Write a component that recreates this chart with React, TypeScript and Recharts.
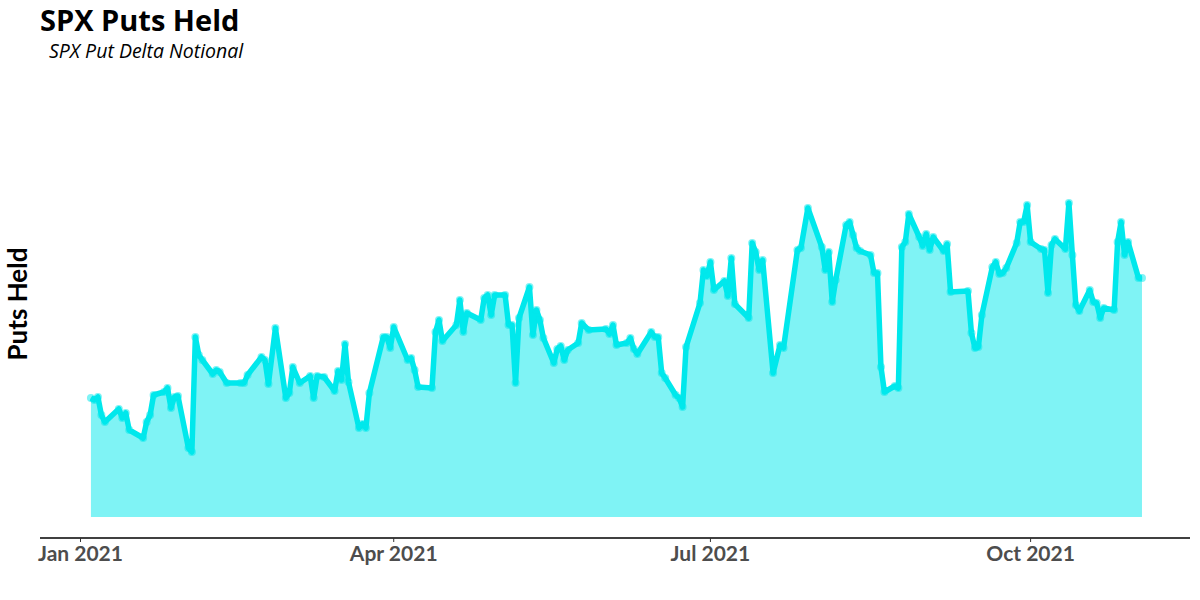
import { AreaChart, Area, XAxis, YAxis } from 'recharts';

// trading days (vertices of the line)
const dates = [
  '2021-01-04', '2021-01-05', '2021-01-06', '2021-01-07', '2021-01-08', '2021-01-12', '2021-01-13', '2021-01-14',
  '2021-01-15', '2021-01-19', '2021-01-20', '2021-01-21', '2021-01-22', '2021-01-25', '2021-01-26', '2021-01-27',
  '2021-01-28', '2021-01-29', '2021-02-01', '2021-02-02', '2021-02-03', '2021-02-04', '2021-02-05', '2021-02-08',
  '2021-02-09', '2021-02-10', '2021-02-12', '2021-02-16', '2021-02-17', '2021-02-18', '2021-02-22', '2021-02-23',
  '2021-02-24', '2021-02-26', '2021-03-01', '2021-03-02', '2021-03-03', '2021-03-05', '2021-03-08', '2021-03-09',
  '2021-03-10', '2021-03-12', '2021-03-15', '2021-03-16', '2021-03-17', '2021-03-18', '2021-03-19', '2021-03-22',
  '2021-03-23', '2021-03-24', '2021-03-25', '2021-03-29', '2021-03-30', '2021-03-31', '2021-04-01', '2021-04-05',
  '2021-04-06', '2021-04-07', '2021-04-08', '2021-04-12', '2021-04-13', '2021-04-14', '2021-04-15', '2021-04-19',
  '2021-04-20', '2021-04-21', '2021-04-22', '2021-04-26', '2021-04-27', '2021-04-28', '2021-04-29', '2021-04-30',
  '2021-05-03', '2021-05-04', '2021-05-05', '2021-05-06', '2021-05-07', '2021-05-10', '2021-05-11', '2021-05-12',
  '2021-05-13', '2021-05-14', '2021-05-17', '2021-05-18', '2021-05-19', '2021-05-20', '2021-05-21', '2021-05-24',
  '2021-05-25', '2021-05-27', '2021-06-01', '2021-06-02', '2021-06-03', '2021-06-04', '2021-06-07', '2021-06-08',
  '2021-06-09', '2021-06-10', '2021-06-14', '2021-06-15', '2021-06-16', '2021-06-17', '2021-06-18', '2021-06-21',
  '2021-06-22', '2021-06-23', '2021-06-24', '2021-06-28', '2021-06-29', '2021-06-30', '2021-07-01', '2021-07-02',
  '2021-07-05', '2021-07-06', '2021-07-07', '2021-07-08', '2021-07-12', '2021-07-13', '2021-07-14', '2021-07-15',
  '2021-07-16', '2021-07-19', '2021-07-21', '2021-07-22', '2021-07-26', '2021-07-27', '2021-07-29', '2021-08-02',
  '2021-08-03', '2021-08-04', '2021-08-05', '2021-08-06', '2021-08-09', '2021-08-10', '2021-08-11', '2021-08-12',
  '2021-08-13', '2021-08-16', '2021-08-17', '2021-08-18', '2021-08-19', '2021-08-20', '2021-08-23', '2021-08-24',
  '2021-08-25', '2021-08-26', '2021-08-27', '2021-08-30', '2021-08-31', '2021-09-01', '2021-09-02', '2021-09-03',
  '2021-09-06', '2021-09-07', '2021-09-08', '2021-09-13', '2021-09-14', '2021-09-15', '2021-09-16', '2021-09-17',
  '2021-09-20', '2021-09-21', '2021-09-22', '2021-09-23', '2021-09-24', '2021-09-27', '2021-09-28', '2021-09-29',
  '2021-09-30', '2021-10-01', '2021-10-04', '2021-10-05', '2021-10-06', '2021-10-07', '2021-10-08', '2021-10-11',
  '2021-10-12', '2021-10-13', '2021-10-14', '2021-10-15', '2021-10-18', '2021-10-19', '2021-10-20', '2021-10-21',
  '2021-10-22', '2021-10-25', '2021-10-26', '2021-10-27', '2021-10-28', '2021-10-29', '2021-11-01', '2021-11-02',
];

const putsHeld = [
  119, 117, 120, 102, 95, 108, 99, 104,
  87, 79, 95, 102, 122, 125, 129, 109,
  120, 121, 69, 65, 180, 162, 157, 143,
  147, 145, 134, 134, 134, 142, 160, 157,
  133, 189, 119, 124, 150, 134, 141, 119,
  141, 140, 126, 146, 137, 173, 135, 89,
  93, 89, 124, 180, 180, 169, 190, 157,
  159, 147, 130, 129, 185, 197, 176, 192,
  217, 185, 204, 197, 219, 222, 202, 222,
  222, 192, 192, 134, 199, 230, 182, 207,
  197, 179, 154, 168, 171, 157, 167, 174,
  194, 187, 188, 183, 192, 172, 174, 179,
  168, 163, 185, 180, 180, 144, 139, 122,
  119, 110, 170, 214, 247, 241, 255, 227,
  236, 221, 259, 213, 199, 274, 265, 247,
  257, 144, 172, 169, 267, 269, 309, 270,
  247, 265, 215, 237, 292, 295, 282, 269,
  266, 262, 244, 244, 150, 125, 131, 129,
  270, 275, 303, 280, 271, 283, 267, 280,
  266, 273, 225, 226, 184, 169, 170, 202,
  250, 255, 243, 244, 249, 274, 295, 295,
  312, 275, 268, 267, 224, 272, 278, 268,
  314, 262, 212, 206, 227, 215, 214, 199,
  209, 207, 275, 295, 262, 275, 239, 239,
];

const tickDates = ['2021-01-01', '2021-04-01', '2021-07-01', '2021-10-01'];
const MONTHS = ['Jan', 'Feb', 'Mar', 'Apr', 'May', 'Jun', 'Jul', 'Aug', 'Sep', 'Oct', 'Nov', 'Dec'];

const toTs = (d: string) => Date.parse(d + 'T00:00:00Z');
const DAY = 86400000;
const jan1 = toTs('2021-01-01');

const data = dates.map((d, i) => ({ t: toTs(d), v: putsHeld[i] }));
const ticks = tickDates.map(toTs);

const CYAN = '#00E8EC';

export default function App() {
  return (
    <div style={{ position: 'absolute', left: 0, top: 0, width: 1200, height: 600, background: '#fff', fontFamily: 'Lato, sans-serif' }}>
      <div style={{ position: 'absolute', left: 40, top: 4, fontFamily: '"Open Sans"', fontSize: 29, lineHeight: '32px', fontWeight: 700, color: '#000' }}>
        SPX Puts Held
      </div>
      <div style={{ position: 'absolute', left: 49, top: 39, fontFamily: '"Open Sans"', fontSize: 19.5, lineHeight: '24px', fontStyle: 'italic', color: '#000' }}>
        SPX Put Delta Notional
      </div>
      <div
        style={{
          position: 'absolute', left: 17, top: 304, fontSize: 26, lineHeight: '26px', fontWeight: 700,
          whiteSpace: 'nowrap', transform: 'translate(-50%, -50%) rotate(-90deg)',
        }}
      >
        Puts Held
      </div>
      <AreaChart width={1200} height={600} data={data} margin={{ top: 182, right: 10, bottom: 32, left: 40 }}>
        <XAxis
          dataKey="t"
          type="number"
          scale="time"
          domain={[jan1 - 11.64 * DAY, jan1 + 318.8 * DAY]}
          ticks={ticks}
          interval={0}
          height={30}
          tickFormatter={(ts: number) => {
            const d = new Date(ts);
            return `${MONTHS[d.getUTCMonth()]} ${d.getUTCFullYear()}`;
          }}
          axisLine={{ stroke: '#000', strokeWidth: 1.5 }}
          tickLine={{ stroke: '#333' }}
          tickSize={4}
          tickMargin={4}
          tick={{ fontSize: 21, fontWeight: 700, fill: '#4D4D4D', fontFamily: 'Lato' }}
        />
        <YAxis hide domain={[-21, 335]} />
        <Area
          type="linear"
          dataKey="v"
          baseValue={0}
          stroke={CYAN}
          strokeWidth={5.5}
          strokeLinejoin="round"
          fill={CYAN}
          fillOpacity={0.5}
          dot={{ r: 4, fill: CYAN, stroke: 'none' }}
          activeDot={false}
          isAnimationActive={false}
        />
      </AreaChart>
    </div>
  );
}
